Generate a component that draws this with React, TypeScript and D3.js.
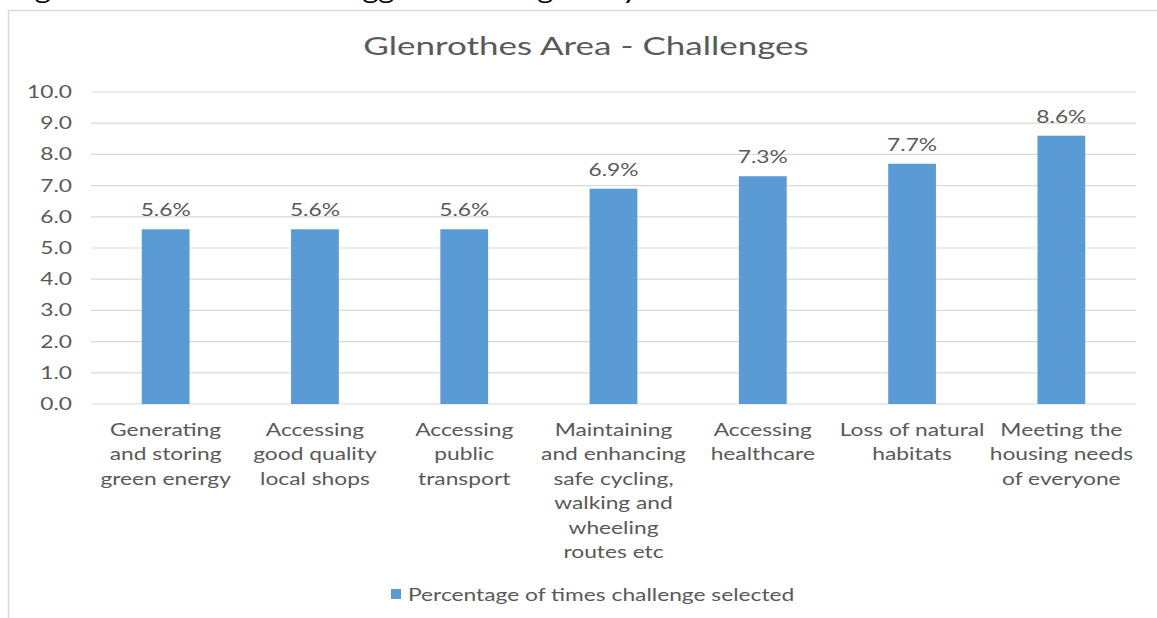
import * as d3 from "d3";

const categories = [
  ["Generating", "and storing", "green energy"],
  ["Accessing", "good quality", "local shops"],
  ["Accessing", "public", "transport"],
  ["Maintaining", "and enhancing", "safe cycling,", "walking and", "wheeling", "routes etc"],
  ["Accessing", "healthcare"],
  ["Loss of natural", "habitats"],
  ["Meeting the", "housing needs", "of everyone"],
];
const values = [5.6, 5.6, 5.6, 6.9, 7.3, 7.7, 8.6];
const yTicks = [0, 1, 2, 3, 4, 5, 6, 7, 8, 9, 10];

const width = 1157;
const height = 618;
const plotLeft = 91;
const plotRight = 1136;
const plotTop = 92;
const plotBottom = 404;
const barColor = "#5b9bd5";
const textColor = "#595959";
const gridColor = "#d9d9d9";
const font = "Lato, sans-serif";

// text with a horizontal stretch, the source looks widened
const T = ({ x, y, size, anchor = "middle", fill = textColor, sx = 1.34, children }: any) => (
  <text
    transform={`translate(${x},${y}) scale(${sx},1)`}
    fontSize={size}
    textAnchor={anchor}
    fill={fill}
    fontFamily={font}
  >
    {children}
  </text>
);

export default function App() {
  const keys = categories.map((c) => c.join(" "));
  const x = d3
    .scaleBand()
    .domain(keys)
    .range([plotLeft, plotRight])
    .paddingInner(0.68)
    .paddingOuter(0.34);
  const y = d3.scaleLinear().domain([0, 10]).range([plotBottom, plotTop]);

  return (
    <div style={{ position: "absolute", left: 0, top: 0 }}>
      <svg width={width} height={height} style={{ display: "block", background: "#fff" }}>
        {/* caption cut off at the top of the crop */}
        <T x={10} y={-1} size={24} anchor="start" fill="#000" sx={1.28}>
          Figure 11: What are the biggest challenges in your area?
        </T>
        <rect x={8.5} y={10.5} width={width + 10} height={height + 10} fill="none" stroke={gridColor} strokeWidth={1.5} />

        <T x={586} y={55} size={25} sx={1.4}>
          Glenrothes Area - Challenges
        </T>

        <g className="grid">
          {yTicks.map((t) => (
            <g key={t}>
              <line x1={plotLeft} x2={plotRight} y1={y(t)} y2={y(t)} stroke={gridColor} strokeWidth={1.2} />
              <T x={72} y={y(t) + 6} size={17} anchor="end">
                {t.toFixed(1)}
              </T>
            </g>
          ))}
        </g>

        <g className="bars">
          {values.map((v, i) => (
            <rect
              key={keys[i]}
              x={x(keys[i])}
              y={y(v)}
              width={x.bandwidth()}
              height={y(0) - y(v)}
              fill={barColor}
            />
          ))}
        </g>

        <g className="labels">
          {values.map((v, i) => (
            <T key={keys[i]} x={x(keys[i])! + x.bandwidth() / 2} y={y(v) - 13} size={17}>
              {v.toFixed(1) + "%"}
            </T>
          ))}
        </g>

        <g className="x-labels">
          {categories.map((lines, i) =>
            lines.map((l, j) => (
              <T key={keys[i] + j} x={x(keys[i])! + x.bandwidth() / 2} y={436 + j * 24.4} size={17}>
                {l}
              </T>
            ))
          )}
        </g>

        <g className="legend">
          <rect x={391} y={589} width={10} height={10} fill={barColor} />
          <T x={408} y={601} size={17} anchor="start">
            Percentage of times challenge selected
          </T>
        </g>
      </svg>
    </div>
  );
}
